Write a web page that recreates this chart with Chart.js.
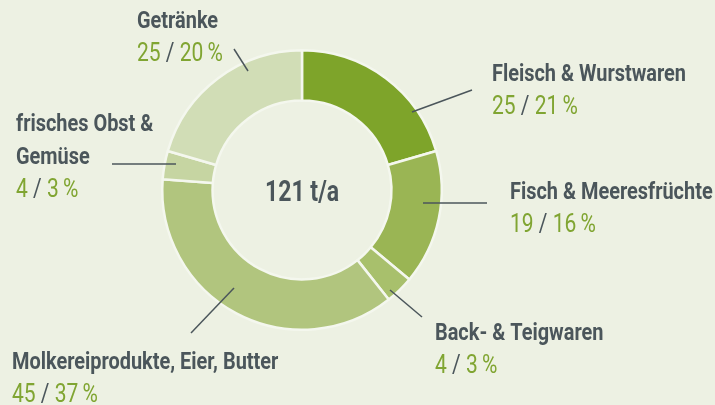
<!DOCTYPE html>
<html>
<head>
<meta charset="utf-8">
<script src="https://cdn.jsdelivr.net/npm/chart.js@4/dist/chart.umd.min.js"></script>
<style>
  html, body { margin: 0; padding: 0; background: #edf1e3; }
  canvas { display: block; }
</style>
</head>
<body>
<canvas id="c" width="715" height="405"></canvas>
<script>
// ---- data ----
const categories = ['Fleisch & Wurstwaren', 'Fisch & Meeresfrüchte', 'Back- & Teigwaren', 'Molkereiprodukte, Eier, Butter', 'frisches Obst & Gemüse', 'Getränke'];
const labelLines = [['Fleisch & Wurstwaren'], ['Fisch & Meeresfrüchte'], ['Back- & Teigwaren'], ['Molkereiprodukte, Eier, Butter'], ['frisches Obst &', 'Gemüse'], ['Getränke']];
const tonnes = [25, 19, 4, 45, 4, 25];
const percents = [21, 16, 3, 37, 3, 20];
const totalLabel = '121 t/a';

// ---- styling / layout ----
const colors = ['#7ea42a', '#9ab554', '#a8c06c', '#b1c57e', '#c6d5a2', '#d1ddb6'];
const dark = '#4b565b';
const green = '#80a532';
const labelFont = 'bold 24px Roboto, "Noto Sans", sans-serif';
const numFont = '400 25px Roboto, "Noto Sans", sans-serif';
const centerFont = 'bold 30px Roboto, "Noto Sans", sans-serif';
// label anchor (x, first-line baseline y) and leader line (x1,y1,x2,y2)
const labelPos = [
  {x: 492, y: 81, line: [412, 112, 472, 90]},
  {x: 510, y: 199, line: [423, 203, 487, 203]},
  {x: 435, y: 340, line: [390, 290, 422, 317]},
  {x: 12, y: 369, line: [234, 288, 191, 333]},
  {x: 16, y: 131, line: [112, 164, 176, 164]},
  {x: 137, y: 28, line: [234, 49, 248, 71]}
];
const lineGap = 32.5;
const numGap = 33;

function condensed(ctx, text, x, y, sx) {
  ctx.save();
  ctx.translate(x, y);
  ctx.scale(sx, 1);
  ctx.fillText(text, 0, 0);
  ctx.restore();
}

const labelPlugin = {
  id: 'labels',
  afterDraw(chart) {
    const ctx = chart.ctx;
    const meta = chart.getDatasetMeta(0);
    const arc0 = meta.data[0];
    ctx.save();
    ctx.textBaseline = 'alphabetic';
    // condensing factors (the reference typeface is a condensed face)
    ctx.font = labelFont;
    const sLabel = 194 / ctx.measureText('Fleisch & Wurstwaren').width;
    ctx.font = numFont;
    const sNum = 86 / ctx.measureText('25 / 21\u2009%').width;
    ctx.font = centerFont;
    const sCenter = 74 / ctx.measureText(totalLabel).width;
    // center text
    ctx.fillStyle = dark;
    ctx.textAlign = 'center';
    condensed(ctx, totalLabel, arc0.x, arc0.y + 11, sCenter);
    ctx.textAlign = 'left';
    categories.forEach((cat, i) => {
      const p = labelPos[i];
      // leader line
      ctx.strokeStyle = dark;
      ctx.lineWidth = 1.5;
      ctx.beginPath();
      ctx.moveTo(p.line[0], p.line[1]);
      ctx.lineTo(p.line[2], p.line[3]);
      ctx.stroke();
      // name
      ctx.font = labelFont;
      ctx.fillStyle = dark;
      const lines = labelLines[i];
      lines.forEach((l, k) => condensed(ctx, l, p.x, p.y + k * lineGap, sLabel));
      // numbers
      const y = p.y + (lines.length - 1) * lineGap + numGap;
      ctx.font = numFont;
      let x = p.x;
      const parts = [[String(tonnes[i]), green], [' / ', dark], [percents[i] + '\u2009%', green]];
      parts.forEach(([t, c]) => {
        ctx.fillStyle = c;
        condensed(ctx, t, x, y, sNum);
        x += ctx.measureText(t).width * sNum;
      });
    });
    ctx.restore();
  }
};

new Chart(document.getElementById('c'), {
  type: 'doughnut',
  data: {
    labels: categories,
    datasets: [{
      data: tonnes,
      backgroundColor: colors,
      borderColor: '#f4f7ee',
      borderWidth: 2.5,
      hoverOffset: 0
    }]
  },
  options: {
    responsive: false,
    animation: false,
    cutout: '64%',
    layout: { padding: { left: 161, top: 49, right: 272, bottom: 74 } },
    plugins: { legend: { display: false }, tooltip: { enabled: false } }
  },
  plugins: [labelPlugin]
});
</script>
</body>
</html>
